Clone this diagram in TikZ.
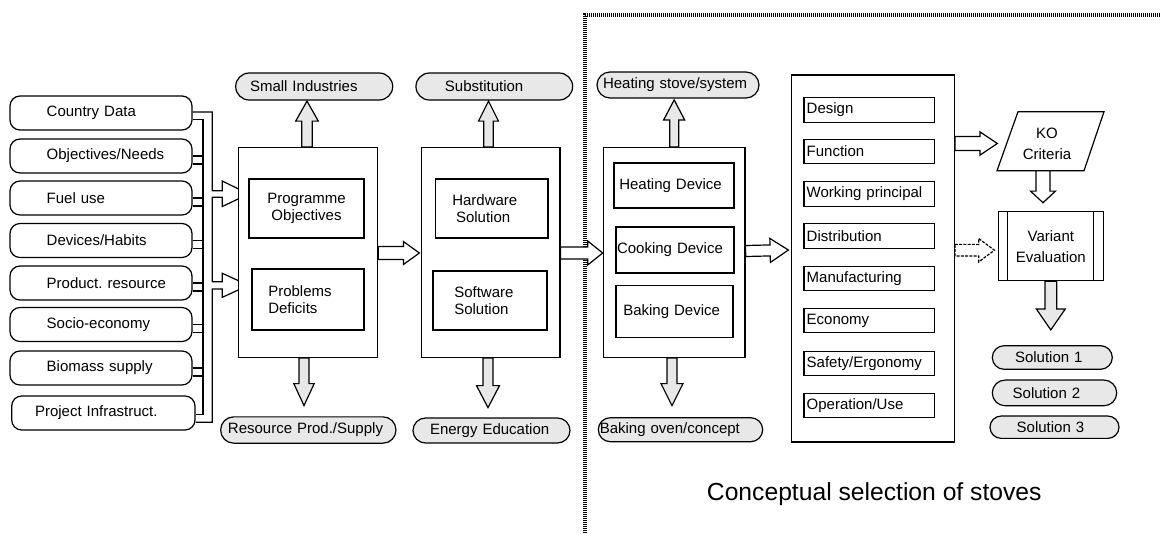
\documentclass[tikz,border=0pt]{standalone}
\usepackage{fontspec}
\setmainfont{Liberation Sans}
\usetikzlibrary{calc}

% block arrow: [style]{start}{end}{shaft half width}{head half width}{head length} (px)
\newcommand\blockarrow[6][]{%
  \path[blockarrow,#1] let \p1=#2, \p2=#3,
      \n1={atan2(\y2-\y1,\x2-\x1)}, \n2={veclen(\x2-\x1,\y2-\y1)} in
    [shift={(\p1)}, rotate=\n1]
    (0pt,{#4*0.75pt}) -- ({\n2*1pt-#6*0.75pt},{#4*0.75pt})
    -- ({\n2*1pt-#6*0.75pt},{#5*0.75pt}) -- ({\n2*1pt},0pt)
    -- ({\n2*1pt-#6*0.75pt},{-#5*0.75pt}) -- ({\n2*1pt-#6*0.75pt},{-#4*0.75pt})
    -- (0pt,{-#4*0.75pt}) -- cycle;}
\newcommand\lnl{\\\hspace*{\bxl pt}}

\tikzset{
  line/.style={line width=0.9pt},
  blockarrow/.style={draw, line, fill=white, line join=miter},
  grey/.style={fill=black!9},
  dasharrow/.style={dash pattern=on 2.2pt off 1pt},
  frame/.style={line width=2.4pt, dash pattern=on 0.9pt off 0.6pt},
  every node/.style={font=\fontsize{11.25pt}{12.75pt}\selectfont},
  % width, height, left lead, corner radius (px); text left aligned
  lbox/.code n args={4}{%
    \pgfmathsetmacro\bxw{#1*0.75}\pgfmathsetmacro\bxh{#2*0.75}%
    \pgfmathsetmacro\bxl{#3*0.75}\pgfmathsetmacro\bxr{#4*0.75}%
    \edef\bxtmp{\noexpand\tikzset{draw, line, fill=white, rectangle,
      inner xsep=0pt, inner ysep=0pt, text width=\bxw pt,
      minimum height=\bxh pt, align=left, rounded corners=\bxr pt,
      execute at begin node={\noexpand\hspace*{\bxl pt}}}}\bxtmp},
  % width, height (px); text centred
  cbox/.style 2 args={draw, line, fill=white, rectangle, inner sep=0pt,
      text width=#1*0.75pt, minimum height=#2*0.75pt, align=center},
  bigbox/.style 2 args={draw, line, fill=white, inner sep=0pt,
      minimum width=#1*0.75pt, minimum height=#2*0.75pt},
  pill/.style={fill=black!9},
  wide/.style={font=\fontsize{11.25pt}{15.75pt}\selectfont},
}

\begin{document}
\begin{tikzpicture}[x=0.75pt,y=-0.75pt]
\useasboundingbox (0,0) rectangle (1160,533);

% frame of the conceptual selection area
\draw[frame] (585,533) -- (585,15) -- (1160,15);

% input data column
\node[lbox={182}{34}{36.7}{10}] (b1) at (101,113) {Country Data};
\node[lbox={182}{34}{36.7}{10}] (b2) at (101,156) {Objectives/Needs};
\node[lbox={182}{34}{36.7}{10}] (b3) at (101,198) {Fuel use};
\node[lbox={182}{34}{36.7}{10}] (b4) at (101,240.5) {Devices/Habits};
\node[lbox={182}{34}{36.7}{10}] (b5) at (101,283) {Product.\ resource};
\node[lbox={182}{34}{36.7}{10}] (b6) at (101,324.5) {Socio-economy};
\node[lbox={182}{34}{36.7}{10}] (b7) at (101,368) {Biomass supply};
\node[lbox={183.3}{34}{23.3}{10}] (b8) at (103.35,413) {Project Infrastruct.};

% collecting rail with two entry arrows
\draw[line, line join=miter] ($(b1.east)+(0,-1)$) -- ++(19.7,0) |- ++(10,78.7)
  -- ++(0,-9.7) -- ++(26.3,13) -- ++(-26.3,12.5) -- ++(0,-9.2) -- ++(-10,0)
  -- ++(0,84.4) -- ++(10,0) -- ++(0,-8.4) -- ++(26.3,12) -- ++(-26.3,12)
  -- ++(0,-8.3) -- ++(-10,0) |- ($(b8.east)+(0,9.3)$);
\draw[line] ($(b1.east)+(0,6.3)$) -- ++(10.3,0) |- ($(b8.east)+(0,1.3)$);
\foreach \b in {b2,b3,b4,b5,b6,b7} {
  \draw[line] (\b.east) -- ++(10.3,0);
  \draw[line] ($(\b.east)+(0,8)$) -- ++(10.3,0);
}

% main process boxes
\node[bigbox={139.4}{209.8}] (bx1) at (308,252.4) {};
\node[bigbox={138.3}{209.8}] (bx2) at (490.85,252.4) {};
\node[bigbox={141.7}{209.8}] (bx3) at (674.15,252.4) {};
\node[bigbox={162.6}{367}] (bx4) at (873,258.5) {};

\node[cbox={115}{59}] (po) at (306.5,208.5) {Programme\\Objectives};
\node[lbox={112}{61}{16.3}{0}] (pd) at (308,299.5) {Problems\lnl Deficits};
\node[lbox={112.3}{59}{16.6}{0}] (hw) at (491.85,208.5) {Hardware\lnl\hspace*{2.8pt}Solution};
\node[lbox={114}{59}{21.3}{0}] (sw) at (490,300.5) {Software\lnl Solution};
\node[lbox={120}{45}{5.3}{0}] (hd) at (674,185.5) {Heating Device};
\node[lbox={118}{46}{1}{0}] (cd) at (675,250) {Cooking Device};
\node[lbox={117}{52}{7.3}{0}] (bd) at (674.5,311.5) {Baking Device};

\node[lbox={130.3}{24.5}{2.7}{0}] (d1) at (869.15,110) {Design};
\node[lbox={130.3}{24.5}{2.7}{0}] (d2) at (869.15,151.5) {Function};
\node[lbox={130.3}{24.5}{2.7}{0}] (d3) at (869.15,194) {Working principal};
\node[lbox={130.3}{24.5}{2.7}{0}] (d4) at (869.15,236) {Distribution};
\node[lbox={130.3}{24.5}{2.7}{0}] (d5) at (869.15,278.5) {Manufacturing};
\node[lbox={130.3}{24.5}{2.7}{0}] (d6) at (869.15,320.5) {Economy};
\node[lbox={130.3}{24.5}{2.7}{0}] (d7) at (869.15,363.5) {Safety/Ergonomy};
\node[lbox={130.3}{24.5}{2.7}{0}] (d8) at (869.15,405.5) {Operation/Use};

% result ovals
\node[lbox={157}{27}{14.3}{13.5}, pill] (si) at (314.2,86.5) {Small Industries};
\node[lbox={156.7}{27}{29}{13.5}, pill] (sub) at (494.3,86.5) {Substitution};
\node[lbox={162}{26}{6}{13}, pill] (hst) at (678,85) {Heating stove/system};
\node[lbox={175.3}{26.3}{7.3}{13}, pill] (rps) at (308.3,430) {Resource Prod./Supply};
\node[lbox={157}{25}{17}{12.5}, pill] (ee) at (491.5,430.5) {Energy Education};
\node[lbox={164.4}{24}{1.5}{12}, pill] (bo) at (680.5,429.7) {Baking oven/concept};
\node[lbox={120}{23.6}{22.7}{11.8}, pill] (s1) at (1052.3,357.5) {Solution 1};
\node[lbox={124.4}{25.7}{20.4}{12.8}, pill] (s2) at (1054.5,392.9) {Solution 2};
\node[lbox={129}{22.3}{26.7}{11.1}, pill] (s3) at (1054.5,427.2) {Solution 3};

% KO criteria (data shape) and variant evaluation (process shape)
\node[wide, align=center, inner sep=0pt] (ko) at (1047,143.5) {KO\\Criteria};
\draw[line] ($(ko)+(-29,-31.8)$) -- ++(86,0) -- ++(-20,59) -- ++(-87,0) -- cycle;
\node[cbox={105}{69}, wide] (var) at (1050.8,246.2) {Variant\\Evaluation};
\draw[line] ($(var.north west)+(10,0)$) -- ($(var.south west)+(10,0)$);
\draw[line] ($(var.north east)+(-10.6,0)$) -- ($(var.south east)+(-10.6,0)$);

% flow arrows
\blockarrow{($(bx1.east)+(0,0.6)$)}{($(bx2.west)+(-1.7,0.6)$)}{6.5}{11.5}{16}
\blockarrow{($(bx2.east)+(0,0.6)$)}{($(bx3.west)+(0,0.6)$)}{6}{12}{15}
\blockarrow{($(bx3.east)+(0,-1.4)$)}{($(bx4.west)+(-2.7,-8.5)$)}{5.5}{12}{18.3}
\blockarrow{(bx4.east |- ko)}{($(bx4.east |- ko)+(42.4,0)$)}{7}{11.7}{17.4}
\blockarrow[dasharrow]{($(bx4.east |- var)+(0,4)$)}{($(var.west)+(-3.3,4)$)}{5.85}{11.7}{15.7}
\blockarrow{($(ko)+(-4,27.2)$)}{($(var.north)+(-7.8,-8.4)$)}{7}{12.5}{11.6}
\blockarrow[grey]{(var.south)}{($(var.south)+(0,48.6)$)}{5.85}{14.5}{21}

\blockarrow[grey]{($(bx1.north)+(-1,0)$)}{($(bx1.north)+(-1,-45.8)$)}{5.3}{11.3}{20}
\blockarrow[grey]{($(bx1.south)+(-4,0)$)}{($(bx1.south)+(-4,47.7)$)}{5}{10.2}{22}
\blockarrow[grey]{($(bx2.north)+(-2.35,0)$)}{($(bx2.north)+(-2.35,-45.8)$)}{4.7}{10}{20}
\blockarrow[grey]{($(bx2.south)+(-2.85,0)$)}{($(bx2.south)+(-2.85,49.7)$)}{5}{11.5}{22}
\blockarrow[grey]{(bx3.north)}{($(bx3.north)+(0,-47)$)}{4.5}{10.5}{20}
\blockarrow[grey]{($(bx3.south)+(-2.15,0)$)}{($(bx3.south)+(-2.15,47.7)$)}{5}{11}{22}

% caption of the selection area
\node[anchor=base west, inner sep=0pt, font=\fontsize{18.5pt}{21pt}\selectfont] (cap)
  at (706.7,500) {Conceptual selection of stoves};
\end{tikzpicture}
\end{document}
